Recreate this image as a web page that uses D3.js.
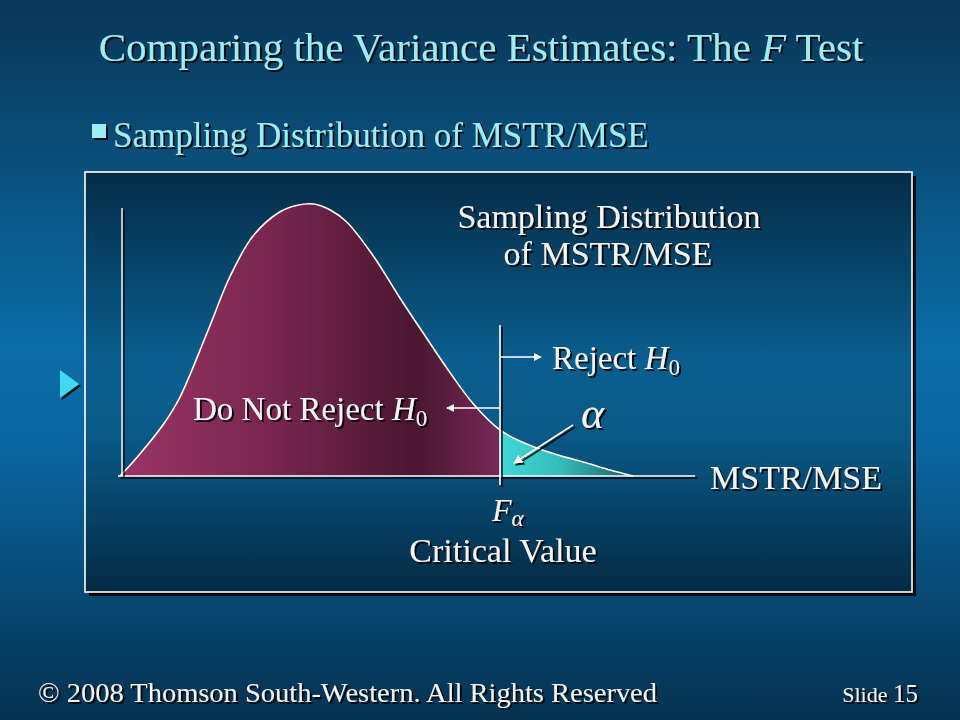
<!DOCTYPE html>
<html>
<head>
  <meta charset="utf-8">
  <title>Comparing the Variance Estimates: The F Test</title>
  <style>
    body { margin: 0; background: #0a4f7c; }
    svg { display: block; }
    .serif { font-family: "Liberation Serif", "Times New Roman", serif; }
    .light { fill: #f4f4f4; }
    .cyan { fill: #9aeef4; }
  </style>
</head>
<body>
  <svg id="chart"></svg>

  <script src="https://d3js.org/d3.v7.min.js"></script>
  <script>
    // values of the F curve (MSTR/MSE, density)
    const fVals   = [0, 0.13, 0.34, 0.47, 0.69, 0.87, 1.05, 1.26, 1.40, 1.53, 1.66, 1.79, 2.00, 2.21, 2.42, 2.58, 2.79, 3.00, 3.16, 3.42, 3.69, 3.87, 4.05];
    const density = [0, 0.045, 0.128, 0.195, 0.36, 0.50, 0.60, 0.66, 0.677, 0.68, 0.665, 0.635, 0.55, 0.445, 0.345, 0.27, 0.18, 0.115, 0.087, 0.056, 0.032, 0.015, 0];
    const fAlpha = 3.0;      // critical value
    const xMax = 4.54;       // end of the MSTR/MSE axis
    const yMax = 0.68;
    const yAxisTop = 0.67;

    const width = 960, height = 720;

    const svg = d3.select("#chart")
      .attr("width", width)
      .attr("height", height);

    const defs = svg.append("defs");

    // background gradients
    const bg = defs.append("linearGradient").attr("id", "bg")
      .attr("x1", 0).attr("y1", 0).attr("x2", 0).attr("y2", 1);
    bg.append("stop").attr("offset", "0%").attr("stop-color", "#0a3656");
    bg.append("stop").attr("offset", "48%").attr("stop-color", "#0a6ca6");
    bg.append("stop").attr("offset", "62%").attr("stop-color", "#0a66a0");
    bg.append("stop").attr("offset", "100%").attr("stop-color", "#05314f");

    const box = defs.append("linearGradient").attr("id", "box")
      .attr("x1", 0).attr("y1", 0).attr("x2", 0).attr("y2", 1);
    box.append("stop").attr("offset", "0%").attr("stop-color", "#052c47");
    box.append("stop").attr("offset", "45%").attr("stop-color", "#0a5e8e");
    box.append("stop").attr("offset", "62%").attr("stop-color", "#0a5a88");
    box.append("stop").attr("offset", "100%").attr("stop-color", "#042a43");

    // scales
    const x = d3.scaleLinear().domain([0, 4.5]).range([120, 690]);
    const y = d3.scaleLinear().domain([0, yMax]).range([476, 204]);

    const accept = defs.append("linearGradient").attr("id", "accept")
      .attr("gradientUnits", "userSpaceOnUse")
      .attr("x1", x(0)).attr("x2", x(fAlpha)).attr("y1", 0).attr("y2", 0);
    accept.append("stop").attr("offset", "0%").attr("stop-color", "#9a3466");
    accept.append("stop").attr("offset", "40%").attr("stop-color", "#782650");
    accept.append("stop").attr("offset", "78%").attr("stop-color", "#4a1631");
    accept.append("stop").attr("offset", "100%").attr("stop-color", "#772a56");

    const reject = defs.append("linearGradient").attr("id", "reject")
      .attr("gradientUnits", "userSpaceOnUse")
      .attr("x1", x(fAlpha)).attr("x2", x(4.05)).attr("y1", 0).attr("y2", 0);
    reject.append("stop").attr("offset", "0%").attr("stop-color", "#40d8d6");
    reject.append("stop").attr("offset", "45%").attr("stop-color", "#36bcbc");
    reject.append("stop").attr("offset", "100%").attr("stop-color", "#1a5e62");

    // text shadow
    const sh = defs.append("filter").attr("id", "shadow")
      .attr("x", "-10%").attr("y", "-20%").attr("width", "130%").attr("height", "150%");
    sh.append("feDropShadow").attr("dx", 2).attr("dy", 2).attr("stdDeviation", 0.6)
      .attr("flood-color", "#000").attr("flood-opacity", 0.85);

    // shadow for straight lines (zero-size boxes need user space region)
    const lsh = defs.append("filter").attr("id", "lineShadow")
      .attr("filterUnits", "userSpaceOnUse")
      .attr("x", 0).attr("y", 0).attr("width", width).attr("height", height);
    lsh.append("feDropShadow").attr("dx", 2).attr("dy", 2).attr("stdDeviation", 0.6)
      .attr("flood-color", "#000").attr("flood-opacity", 0.85);

    // arrow heads
    defs.append("marker").attr("id", "head")
      .attr("viewBox", "0 0 10 10").attr("refX", 9).attr("refY", 5)
      .attr("markerWidth", 5).attr("markerHeight", 5)
      .attr("markerUnits", "strokeWidth")
      .attr("orient", "auto")
      .append("path").attr("d", "M0,0 L10,5 L0,10 z").attr("fill", "#fff");

    svg.append("rect").attr("width", width).attr("height", height).attr("fill", "url(#bg)");

    // title
    const title = svg.append("text").attr("class", "serif cyan")
      .attr("x", 481).attr("y", 61)
      .attr("text-anchor", "middle")
      .attr("font-size", 41)
      .attr("filter", "url(#shadow)");
    title.append("tspan").text("Comparing the Variance Estimates: The ");
    title.append("tspan").attr("font-style", "italic").text("F");
    title.append("tspan").text(" Test");

    // bullet
    svg.append("rect").attr("x", 92).attr("y", 124).attr("width", 14).attr("height", 14)
      .attr("fill", "#9aeef4").attr("filter", "url(#shadow)");
    svg.append("text").attr("class", "serif cyan")
      .attr("x", 113).attr("y", 147)
      .attr("font-size", 35)
      .attr("filter", "url(#shadow)")
      .text("Sampling Distribution of MSTR/MSE");

    // slide nav triangle
    svg.append("path")
      .attr("d", "M60,370 L60,398 L79,384 Z")
      .attr("fill", "#3fd9f2")
      .attr("filter", "url(#shadow)");

    // chart box
    svg.append("rect").attr("x", 89).attr("y", 176).attr("width", 827).attr("height", 420)
      .attr("fill", "#000").attr("opacity", 0.9);
    svg.append("rect").attr("x", 85).attr("y", 172).attr("width", 827).attr("height", 420)
      .attr("fill", "url(#box)").attr("stroke", "#fff").attr("stroke-width", 1.6);

    const pts = fVals.map((f, i) => ({ f: f, d: density[i] }));
    const leftPts = pts.filter(p => p.f <= fAlpha);
    const rightPts = pts.filter(p => p.f >= fAlpha);

    const curve = d3.curveCatmullRom.alpha(0.5);
    const area = d3.area()
      .x(p => x(p.f)).y0(y(0)).y1(p => y(p.d))
      .curve(curve);
    const line = d3.line()
      .x(p => x(p.f)).y(p => y(p.d))
      .curve(curve);

    const plot = svg.append("g");

    plot.append("path").datum(leftPts).attr("d", area).attr("fill", "url(#accept)");
    plot.append("path").datum(rightPts).attr("d", area).attr("fill", "url(#reject)");
    plot.append("path").datum(pts).attr("d", line)
      .attr("fill", "none").attr("stroke", "#fff").attr("stroke-width", 1.6);

    // axes
    plot.append("line")
      .attr("x1", x(0) - 2).attr("x2", x(xMax))
      .attr("y1", y(0)).attr("y2", y(0))
      .attr("stroke", "#fff").attr("stroke-width", 1.6).attr("filter", "url(#lineShadow)");
    plot.append("line")
      .attr("x1", x(0) + 2).attr("x2", x(0) + 2)
      .attr("y1", y(0)).attr("y2", y(yAxisTop))
      .attr("stroke", "#fff").attr("stroke-width", 1.4).attr("filter", "url(#lineShadow)");

    // critical value line
    const xc = x(fAlpha);
    plot.append("line")
      .attr("x1", xc).attr("x2", xc)
      .attr("y1", y(0) + 9).attr("y2", 325)
      .attr("stroke", "#fff").attr("stroke-width", 1.6).attr("filter", "url(#lineShadow)");

    // arrows
    plot.append("line")
      .attr("x1", xc).attr("x2", xc + 41).attr("y1", 357).attr("y2", 357)
      .attr("stroke", "#fff").attr("stroke-width", 1.6).attr("marker-end", "url(#head)");
    plot.append("line")
      .attr("x1", xc).attr("x2", xc - 53).attr("y1", 408).attr("y2", 408)
      .attr("stroke", "#fff").attr("stroke-width", 1.6).attr("marker-end", "url(#head)");
    plot.append("line")
      .attr("x1", 573).attr("x2", xc + 14).attr("y1", 425).attr("y2", 463)
      .attr("stroke", "#fff").attr("stroke-width", 1.8).attr("marker-end", "url(#head)")
      .attr("filter", "url(#lineShadow)");

    // labels
    function label(xp, yp, size, anchor) {
      return svg.append("text").attr("class", "serif light")
        .attr("x", xp).attr("y", yp)
        .attr("font-size", size)
        .attr("text-anchor", anchor || "start")
        .attr("filter", "url(#shadow)");
    }

    label(609, 228, 34, "middle").text("Sampling Distribution");
    label(608, 265, 34, "middle").text("of MSTR/MSE");

    const rj = label(552, 369, 33);
    rj.append("tspan").text("Reject ");
    rj.append("tspan").attr("font-style", "italic").text("H");
    rj.append("tspan").attr("font-size", 23).attr("dy", 6).text("0");

    const dnr = label(193, 420, 33);
    dnr.append("tspan").text("Do Not Reject ");
    dnr.append("tspan").attr("font-style", "italic").text("H");
    dnr.append("tspan").attr("font-size", 23).attr("dy", 6).text("0");

    label(581, 428, 44).attr("font-style", "italic").text("\u03b1");

    label(710, 489, 34).text("MSTR/MSE");

    const fa = label(492, 521, 32).attr("font-style", "italic");
    fa.append("tspan").text("F");
    fa.append("tspan").attr("font-size", 23).attr("dy", 5).text("\u03b1");

    label(503, 562, 34, "middle").text("Critical Value");

    // footer
    label(38, 702, 27).attr("textLength", 619).attr("lengthAdjust", "spacingAndGlyphs")
      .text("\u00a9 2008  Thomson South-Western.  All Rights Reserved");
    const sl = label(918, 702, 25, "end");
    sl.append("tspan").attr("font-size", 22).text("Slide ");
    sl.append("tspan").text("15");
  </script>
</body>
</html>
